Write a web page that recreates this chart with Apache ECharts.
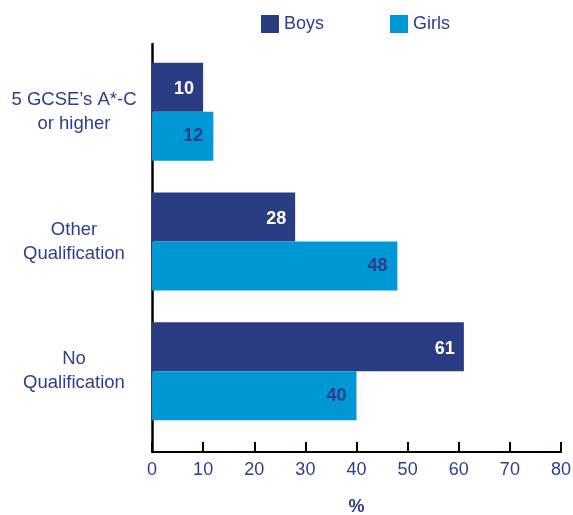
<!DOCTYPE html>
<html><head><meta charset="utf-8">
<script src="https://cdn.jsdelivr.net/npm/echarts@6/dist/echarts.min.js"></script>
<style>html,body{margin:0;padding:0;background:#fff}#c{width:573px;height:515px}</style>
</head><body><div id="c"></div>
<script>
const categories = ["5 GCSE\u2019s A*-C\nor higher", "Other\nQualification", "No\nQualification"];
const boys = [10, 28, 61];
const girls = [12, 48, 40];
const xTicks = [0, 10, 20, 30, 40, 50, 60, 70, 80];

const NAVY = '#293c84';
const BLUE = '#0097d7';
const TXT = '#2d3e8a';
const FONT = 'Liberation Sans, Arial, sans-serif';

const chart = echarts.init(document.getElementById('c'));
chart.setOption({
  animation: false,
  textStyle: { fontFamily: FONT },
  legend: {
    top: 10, left: 256, itemWidth: 18, itemHeight: 18, itemGap: 66,
    textStyle: { fontSize: 18, color: TXT, fontFamily: FONT },
    data: [{ name: 'Boys', icon: 'rect' }, { name: 'Girls', icon: 'rect' }]
  },
  grid: [
    { left: 152, right: 12, top: 47, height: 389, containLabel: false, outerBoundsMode: 'none' },
    { left: 152, right: 12, top: 44, bottom: 63, containLabel: false, outerBoundsMode: 'none' }
  ],
  xAxis: [
    { gridIndex: 0, type: 'value', min: 0, max: 80, interval: 10, show: false },
    { gridIndex: 1, type: 'value', min: xTicks[0], max: xTicks[xTicks.length - 1], interval: 10,
      axisLine: { show: true, lineStyle: { color: '#000', width: 2 } },
      axisTick: { show: true, inside: true, length: 10, lineStyle: { color: '#000', width: 2 } },
      splitLine: { show: false },
      axisLabel: { color: TXT, fontSize: 18, margin: 9, fontFamily: FONT },
      name: '%', nameLocation: 'middle', nameGap: 46,
      nameTextStyle: { color: TXT, fontSize: 18, fontWeight: 'bold', fontFamily: FONT } }
  ],
  yAxis: [
    { gridIndex: 0, type: 'category', data: categories, inverse: true,
      axisLine: { show: false }, axisTick: { show: false },
      axisLabel: { color: TXT, fontSize: 18.5, align: 'center', margin: 78, lineHeight: 24, fontFamily: FONT } },
    { gridIndex: 1, type: 'value', min: 0, max: 1, show: true,
      axisLine: { show: true, lineStyle: { color: '#000', width: 2.5 } },
      axisTick: { show: false }, axisLabel: { show: false }, splitLine: { show: false } }
  ],
  series: [
    { name: 'Boys', type: 'bar', xAxisIndex: 0, yAxisIndex: 0, data: boys,
      barWidth: 49, barGap: '0%', itemStyle: { color: NAVY },
      label: { show: true, position: 'insideRight', offset: [-4, 2], color: '#fff', fontSize: 18, fontWeight: 'bold', fontFamily: FONT } },
    { name: 'Girls', type: 'bar', xAxisIndex: 0, yAxisIndex: 0, data: girls,
      barWidth: 49, barGap: '0%', itemStyle: { color: BLUE },
      label: { show: true, position: 'insideRight', offset: [-5, 0], color: TXT, fontSize: 18, fontWeight: 'bold', fontFamily: FONT } }
  ]
});
</script></body></html>
